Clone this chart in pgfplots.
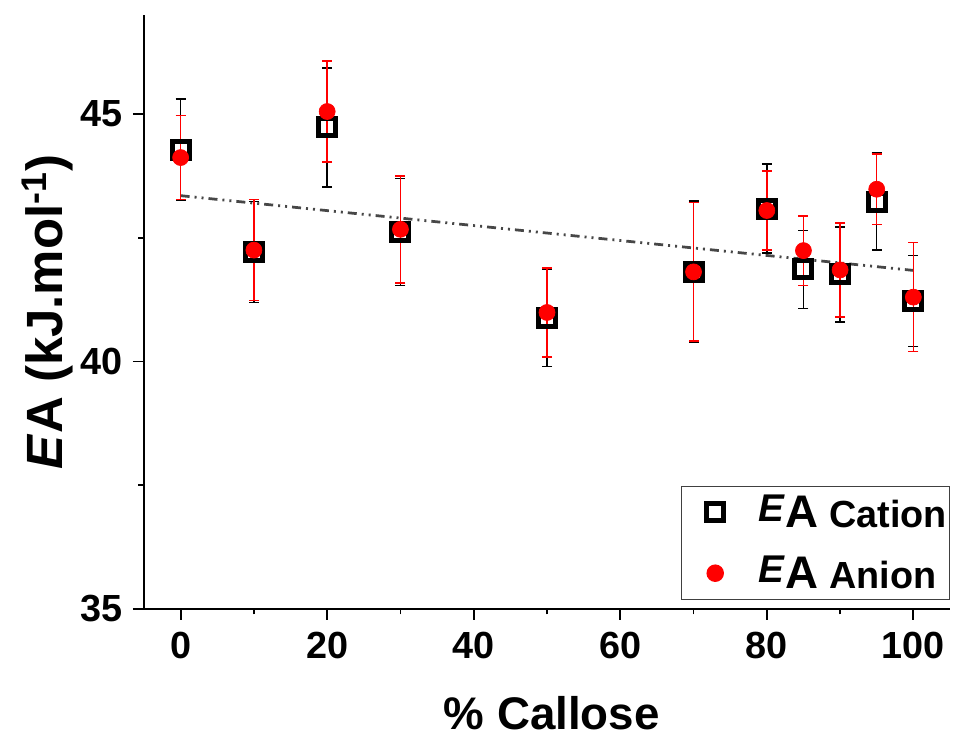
\documentclass[border=0pt]{standalone}
\usepackage{fontspec}
\setmainfont{Liberation Sans}
\usepackage{pgfplots}
\pgfplotsset{compat=1.18}
\begin{document}
\begin{tikzpicture}
\begin{axis}[
  name=ax,
  scale only axis,
  width=161.2mm, height=118.8mm,
  xmin=-5, xmax=105, ymin=35, ymax=47,
  axis lines*=left,
  axis line style={line width=0.35mm},
  every tick/.style={line width=0.35mm, black},
  tick align=outside,
  major tick length=2.2mm, minor tick length=1.1mm,
  xtick={0,20,40,60,80,100}, minor x tick num=1,
  ytick={35,40,45}, minor y tick num=1,
  /pgf/number format/assume math mode=true,
  tick label style={font=\bfseries\fontsize{21.5}{24}\selectfont},
  xticklabel style={yshift=-1.2mm},
  yticklabel style={xshift=-0.9mm},
  xlabel={\% Callose},
  ylabel={\textit{E}A (kJ.mol\textsuperscript{-1})},
  xlabel style={font=\bfseries\fontsize{26}{30}\selectfont, at={(axis description cs:0.506,-0.2035)}, anchor=base},
  ylabel style={font=\bfseries\fontsize{29}{32}\selectfont, at={(axis description cs:-0.12,0.5)}, anchor=center},
  legend style={at={(rel axis cs:1,0.015)}, anchor=south east, draw=black!75, line width=0.3mm,
    font=\bfseries\fontsize{21.5}{24}\selectfont, inner xsep=0.5mm, inner ysep=1mm,
    row sep=3.7mm, column sep=0pt, nodes={inner xsep=0pt}},
  legend image code/.code={%
    \path (0mm,0mm) (14.7mm,0mm);
    \draw[mark repeat=2,mark phase=2,#1] plot coordinates {(5mm,0mm)(6.1mm,0mm)(7mm,0mm)};},
  legend cell align=left,
  clip=false,
]
% trend line
\addplot[black!72, line width=0.55mm, dash pattern=on 1.8mm off 1mm on 0.4mm off 1mm on 0.4mm off 1mm, forget plot]
  coordinates {(0,43.35) (100,41.84)};
% Cation
\addplot[only marks, mark=square, mark size=1.7mm, mark options={line width=1mm, black},
  error bars/.cd, y dir=both, y explicit,
  error bar style={black, line width=0.3mm},
  error mark options={rotate=90, black, line width=0.3mm, mark size=1mm}]
  coordinates {
  (0,44.28) +- (0,1.02)
  (10,42.21) +- (0,1.02)
  (20,44.73) +- (0,1.2)
  (30,42.62) +- (0,1.08)
  (50,40.88) +- (0,0.98)
  (70,41.81) +- (0,1.43)
  (80,43.09) +- (0,0.9)
  (85,41.86) +- (0,0.79)
  (90,41.76) +- (0,0.96)
  (95,43.23) +- (0,0.98)
  (100,41.22) +- (0,0.92)
  };
\addlegendentry{\raisebox{1.2mm}{\fontsize{22}{24}\selectfont\textit{E}}{\fontsize{26}{28}\selectfont A} Cation}
% Anion
\addplot[only marks, mark=*, mark size=1.6mm, mark options={red, draw=red, fill=red},
  error bars/.cd, y dir=both, y explicit,
  error bar style={red, line width=0.3mm},
  error mark options={rotate=90, red, line width=0.3mm, mark size=1mm}]
  coordinates {
  (0,44.12) +- (0,0.85)
  (10,42.25) +- (0,1.02)
  (20,45.05) +- (0,1.02)
  (30,42.67) +- (0,1.08)
  (50,40.99) +- (0,0.9)
  (70,41.81) +- (0,1.4)
  (80,43.05) +- (0,0.8)
  (85,42.24) +- (0,0.7)
  (90,41.85) +- (0,0.95)
  (95,43.48) +- (0,0.71)
  (100,41.30) +- (0,1.1)
  };
\addlegendentry{\raisebox{1.2mm}{\fontsize{22}{24}\selectfont\textit{E}}{\fontsize{26}{28}\selectfont A} Anion}
\end{axis}
\pgfresetboundingbox
\path ([shift={(-28.8mm,-25.8mm)}]ax.south west) rectangle ([shift={(0.8mm,3mm)}]ax.north east);
\end{tikzpicture}
\end{document}
